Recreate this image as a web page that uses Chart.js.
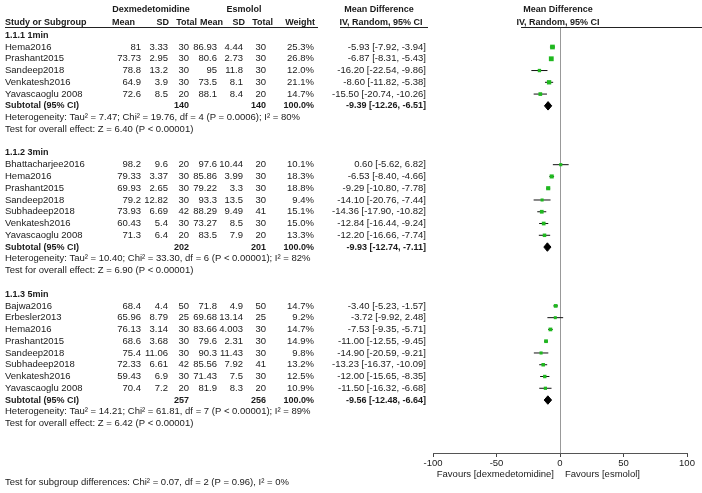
<!DOCTYPE html>
<html>
<head>
<meta charset="utf-8">
<script src="https://cdn.jsdelivr.net/npm/chart.js@4.4.1/dist/chart.umd.min.js"></script>
<style>
  html, body { margin: 0; padding: 0; background: #fff; }
</style>
</head>
<body>
<canvas id="forest" width="702" height="493"></canvas>
<script>
// subgroups
const groupLabels = ['1.1.1 1min', '1.1.2 3min', '1.1.3 5min'];
const studyNames = [
  ['Hema2016', 'Prashant2015', 'Sandeep2018', 'Venkatesh2016', 'Yavascaoglu 2008'],
  ['Bhattacharjee2016', 'Hema2016', 'Prashant2015', 'Sandeep2018', 'Subhadeep2018', 'Venkatesh2016', 'Yavascaoglu 2008'],
  ['Bajwa2016', 'Erbesler2013', 'Hema2016', 'Prashant2015', 'Sandeep2018', 'Subhadeep2018', 'Venkatesh2016', 'Yavascaoglu 2008']
];
// dexmedetomidine arm
const dexMean = [[81, 73.73, 78.8, 64.9, 72.6], [98.2, 79.33, 69.93, 79.2, 73.93, 60.43, 71.3], [68.4, 65.96, 76.13, 68.6, 75.4, 72.33, 59.43, 70.4]];
const dexSD = [[3.33, 2.95, 13.2, 3.9, 8.5], [9.6, 3.37, 2.65, 12.82, 6.69, 5.4, 6.4], [4.4, 8.79, 3.14, 3.68, 11.06, 6.61, 6.9, 7.2]];
const dexN = [[30, 30, 30, 30, 20], [20, 30, 30, 30, 42, 30, 20], [50, 25, 30, 30, 30, 42, 30, 20]];
// esmolol arm
const esmMean = [[86.93, 80.6, 95, 73.5, 88.1], [97.6, 85.86, 79.22, 93.3, 88.29, 73.27, 83.5], [71.8, 69.68, 83.66, 79.6, 90.3, 85.56, 71.43, 81.9]];
const esmSD = [[4.44, 2.73, 11.8, 8.1, 8.4], [10.44, 3.99, 3.3, 13.5, 9.49, 8.5, 7.9], [4.9, 13.14, '4.003', 2.31, 11.43, 7.92, 7.5, 8.3]];
const esmN = [[30, 30, 30, 30, 20], [20, 30, 30, 30, 41, 30, 20], [50, 25, 30, 30, 30, 41, 30, 20]];
// effect sizes
const weight = [[25.3, 26.8, 12.0, 21.1, 14.7], [10.1, 18.3, 18.8, 9.4, 15.1, 15.0, 13.3], [14.7, 9.2, 14.7, 14.9, 9.8, 13.2, 12.5, 10.9]];
const md = [[-5.93, -6.87, -16.20, -8.60, -15.50], [0.60, -6.53, -9.29, -14.10, -14.36, -12.84, -12.20], [-3.40, -3.72, -7.53, -11.00, -14.90, -13.23, -12.00, -11.50]];
const ciLow = [[-7.92, -8.31, -22.54, -11.82, -20.74], [-5.62, -8.40, -10.80, -20.76, -17.90, -16.44, -16.66], [-5.23, -9.92, -9.35, -12.55, -20.59, -16.37, -15.65, -16.32]];
const ciHigh = [[-3.94, -5.43, -9.86, -5.38, -10.26], [6.82, -4.66, -7.78, -7.44, -10.82, -9.24, -7.74], [-1.57, 2.48, -5.71, -9.45, -9.21, -10.09, -8.35, -6.68]];
// subtotals
const subDexN = [140, 202, 257];
const subEsmN = [140, 201, 256];
const subMd = [-9.39, -9.93, -9.56];
const subLow = [-12.26, -12.74, -12.48];
const subHigh = [-6.51, -7.11, -6.64];
const hetText = [
  'Heterogeneity: Tau² = 7.47; Chi² = 19.76, df = 4 (P = 0.0006); I² = 80%',
  'Heterogeneity: Tau² = 10.40; Chi² = 33.30, df = 6 (P < 0.00001); I² = 82%',
  'Heterogeneity: Tau² = 14.21; Chi² = 61.81, df = 7 (P < 0.00001); I² = 89%'
];
const effectText = [
  'Test for overall effect: Z = 6.40 (P < 0.00001)',
  'Test for overall effect: Z = 6.90 (P < 0.00001)',
  'Test for overall effect: Z = 6.42 (P < 0.00001)'
];
const subgroupTest = 'Test for subgroup differences: Chi² = 0.07, df = 2 (P = 0.96), I² = 0%';
const xTicks = [-100, -50, 0, 50, 100];
const favours = ['Favours [dexmedetomidine]', 'Favours [esmolol]'];

// row numbers for each line of the table
const rows = [];
let r = 0;
groupLabels.forEach((g, gi) => {
  rows.push({ kind: 'group', row: r++, gi });
  studyNames[gi].forEach((s, si) => rows.push({ kind: 'study', row: r++, gi, si }));
  rows.push({ kind: 'subtotal', row: r++, gi });
  rows.push({ kind: 'het', row: r++, gi });
  rows.push({ kind: 'effect', row: r++, gi });
  r++;
});
const subgroupRow = r + 3;

const FONT = "'Liberation Sans', Arial, sans-serif";
const TXT = '#1a1a1a';
const fmtCI = (m, lo, hi) => m.toFixed(2) + ' [' + lo.toFixed(2) + ', ' + hi.toFixed(2) + ']';

// datasets
const squares = [];
const ciSets = [];
const diamonds = [];
rows.forEach(o => {
  if (o.kind === 'study') {
    squares.push({ x: md[o.gi][o.si], y: o.row, w: weight[o.gi][o.si] });
    ciSets.push({
      type: 'line',
      data: [{ x: ciLow[o.gi][o.si], y: o.row }, { x: ciHigh[o.gi][o.si], y: o.row }],
      borderColor: '#111', borderWidth: 1, pointRadius: 0, order: 2
    });
  }
  if (o.kind === 'subtotal') {
    const g = o.gi;
    diamonds.push({
      type: 'line',
      data: [
        { x: subLow[g], y: o.row }, { x: subMd[g], y: o.row - 0.36 },
        { x: subHigh[g], y: o.row }, { x: subMd[g], y: o.row + 0.36 },
        { x: subLow[g], y: o.row }
      ],
      borderColor: '#000', backgroundColor: '#000', borderWidth: 1,
      pointRadius: 0, fill: 'shape', order: 1
    });
  }
});

const textPlugin = {
  id: 'forestText',
  afterDraw(chart) {
    const ctx = chart.ctx;
    const ys = chart.scales.y, xs = chart.scales.x;
    const Y = v => ys.getPixelForValue(v);
    const put = (t, x, y, align, bold) => {
      ctx.font = (bold ? 'bold 9px ' : '9.5px ') + FONT;
      ctx.textAlign = align;
      ctx.fillText(String(t), x, y);
    };
    ctx.save();
    ctx.fillStyle = TXT;
    ctx.textBaseline = 'middle';

    // header
    const h1 = Y(-2.2), h2 = Y(-1.1);
    const x0 = xs.getPixelForValue(0);
    put('Dexmedetomidine', 151, h1, 'center', true);
    put('Esmolol', 244, h1, 'center', true);
    put('Mean Difference', 379, h1, 'center', true);
    put('Mean Difference', x0 - 2, h1, 'center', true);
    put('Study or Subgroup', 5, h2, 'left', true);
    put('Mean', 135, h2, 'right', true);
    put('SD', 169, h2, 'right', true);
    put('Total', 197, h2, 'right', true);
    put('Mean', 223, h2, 'right', true);
    put('SD', 245, h2, 'right', true);
    put('Total', 273, h2, 'right', true);
    put('Weight', 315, h2, 'right', true);
    put('IV, Random, 95% CI', 381, h2, 'center', true);
    put('IV, Random, 95% CI', x0 - 2, h2, 'center', true);

    ctx.strokeStyle = '#222';
    ctx.lineWidth = 1;
    const top = chart.chartArea.top + 0.5;
    [[5, 318], [340, 428], [521, 702]].forEach(([a, b]) => {
      ctx.beginPath(); ctx.moveTo(a, top); ctx.lineTo(b, top); ctx.stroke();
    });

    rows.forEach(o => {
      const y = Y(o.row), g = o.gi;
      if (o.kind === 'group') put(groupLabels[g], 5, y, 'left', true);
      if (o.kind === 'study') {
        const i = o.si;
        put(studyNames[g][i], 5, y, 'left');
        put(dexMean[g][i], 141, y, 'right');
        put(dexSD[g][i], 168, y, 'right');
        put(dexN[g][i], 189, y, 'right');
        put(esmMean[g][i], 217, y, 'right');
        put(esmSD[g][i], 243, y, 'right');
        put(esmN[g][i], 266, y, 'right');
        put(weight[g][i].toFixed(1) + '%', 314, y, 'right');
        put(fmtCI(md[g][i], ciLow[g][i], ciHigh[g][i]), 426, y, 'right');
      }
      if (o.kind === 'subtotal') {
        put('Subtotal (95% CI)', 5, y, 'left', true);
        put(subDexN[g], 189, y, 'right', true);
        put(subEsmN[g], 266, y, 'right', true);
        put('100.0%', 314, y, 'right', true);
        put(fmtCI(subMd[g], subLow[g], subHigh[g]), 426, y, 'right', true);
      }
      if (o.kind === 'het') put(hetText[g], 5, y, 'left');
      if (o.kind === 'effect') put(effectText[g], 5, y, 'left');
    });
    put(subgroupTest, 5, Y(subgroupRow), 'left');

    const fy = chart.chartArea.bottom + 21;
    put(favours[0], x0 - 6, fy, 'right');
    put(favours[1], x0 + 5, fy, 'left');
    ctx.restore();
  }
};

new Chart(document.getElementById('forest'), {
  type: 'scatter',
  data: {
    datasets: [
      {
        label: 'studies',
        data: squares,
        pointStyle: 'rect',
        pointRadius: c => 0.85 * Math.sqrt(c.raw.w) / Math.SQRT2 + 0.3,
        backgroundColor: '#1fb81f',
        borderColor: '#1fb81f',
        borderWidth: 0,
        order: 0
      },
      ...ciSets,
      ...diamonds
    ]
  },
  options: {
    responsive: false,
    animation: false,
    devicePixelRatio: 1,
    layout: { padding: { left: 433, right: 15, top: 27, bottom: 10 } },
    plugins: { legend: { display: false }, tooltip: { enabled: false } },
    scales: {
      x: {
        type: 'linear',
        min: -100,
        max: 100,
        afterBuildTicks: s => { s.ticks = xTicks.map(v => ({ value: v })); },
        afterFit: s => { s.height = 30; },
        ticks: { color: TXT, font: { family: FONT, size: 9.5 }, padding: 1, maxRotation: 0 },
        grid: {
          color: c => (c.tick && c.tick.value === 0 ? '#999' : 'rgba(0,0,0,0)'),
          tickColor: '#444',
          tickLength: 4,
          lineWidth: 1
        },
        border: { color: '#555', width: 1 }
      },
      y: {
        display: false,
        reverse: true,
        min: -0.7,
        max: 35.5
      }
    }
  },
  plugins: [textPlugin]
});
</script>
</body>
</html>
